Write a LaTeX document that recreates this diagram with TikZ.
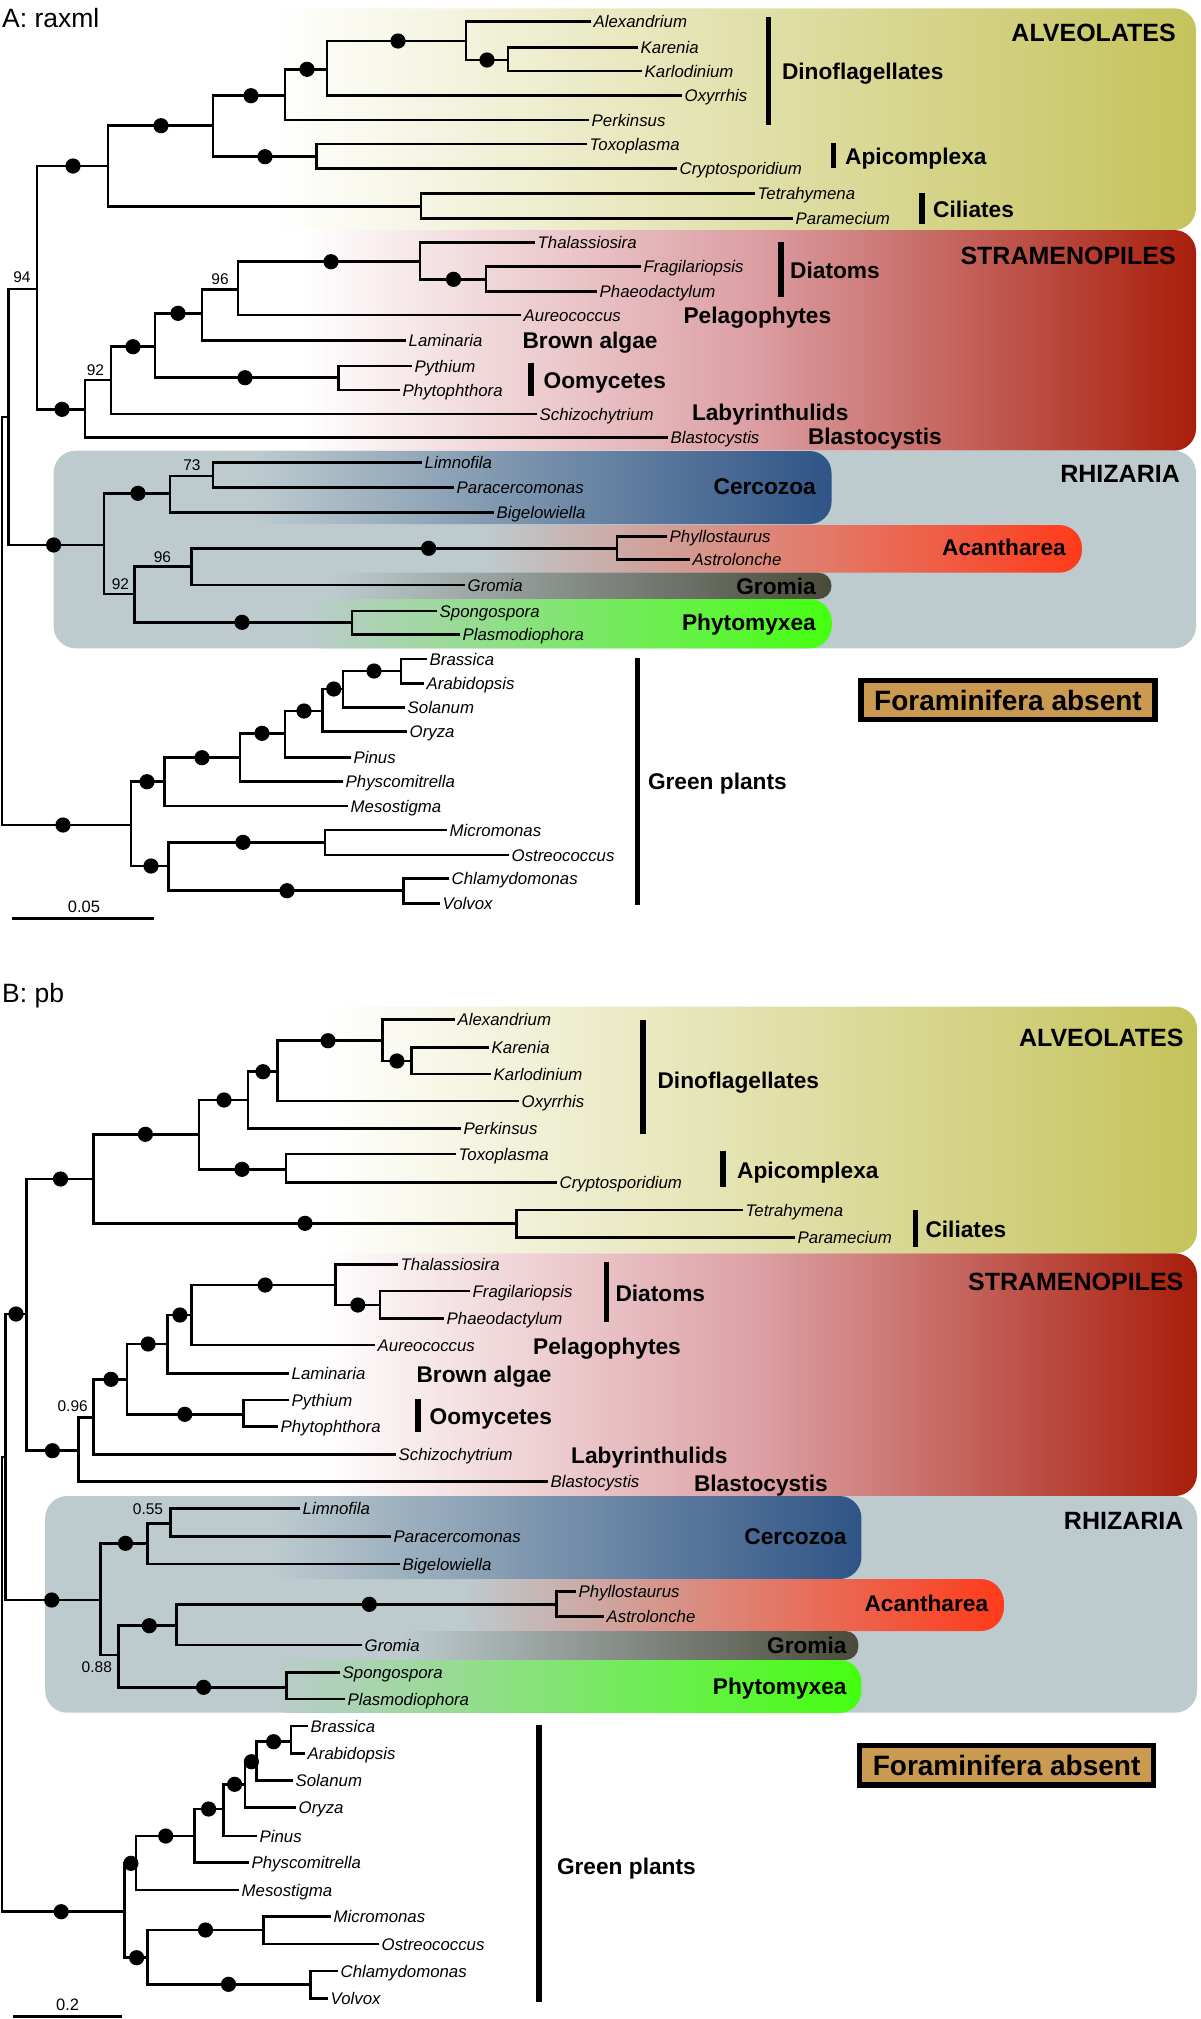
\documentclass[tikz,border=0pt]{standalone}
\usepackage{fontspec}
\setmainfont{Liberation Sans}
\usetikzlibrary{positioning}

\definecolor{alvcol}{HTML}{C5C35B}
\definecolor{strmid}{HTML}{DCA0A5}
\definecolor{strcol}{HTML}{A91E0B}
\definecolor{rhicol}{HTML}{BDCBCF}
\definecolor{cercol}{HTML}{2F5486}
\definecolor{acacol}{HTML}{FF3B1A}
\definecolor{grocol}{HTML}{4A4A3A}
\definecolor{phycol}{HTML}{44FF10}
\definecolor{foracol}{HTML}{C99A50}

\begin{document}
\begin{tikzpicture}[
    x=1pt, y=-1pt,
    branch/.style={line width=2.8pt},
    leaf/.style={anchor=west, inner xsep=2.5pt, inner ysep=0pt, font=\fontsize{16.8}{18}\selectfont\itshape, text height=14pt, text depth=2pt},
    bsval/.style={inner sep=0pt, font=\fontsize{15.5}{16}\selectfont, text height=12.5pt, text depth=1.4pt},
    clade/.style={anchor=west, inner sep=0pt, font=\fontsize{22.7}{24}\selectfont\bfseries, text height=19pt, text depth=2.75pt},
    cladeR/.style={clade, anchor=east},
    supergrp/.style={anchor=east, inner sep=0pt, font=\fontsize{25}{27}\selectfont\bfseries, text height=21pt, text depth=3.1pt},
    panel/.style={anchor=west, inner sep=0pt, font=\fontsize{26.5}{28}\selectfont, text height=22pt, text depth=3pt},
    scaleval/.style={inner sep=0pt, font=\fontsize{16.5}{18}\selectfont, text height=13pt, text depth=1.2pt},
    bsdot/.style={fill=black},
    cbar/.style={line width=5.5pt},
    absent/.style={draw, line width=5.5pt, fill=foracol, inner sep=0pt, minimum width=293.8pt, minimum height=39.1pt, font=\fontsize{28}{30}\selectfont\bfseries, text height=23pt, text depth=3pt}
]
\useasboundingbox (0,0) rectangle (1200,2019);

% ---------- panel A: background boxes
\shade[rounded corners=22pt, left color=white, right color=alvcol] (270,8.3) rectangle (1196,230);
\shade[rounded corners=22pt, left color=white, right color=strcol, middle color=strmid] (300,230) rectangle (1196,450.7);
\fill[rhicol, rounded corners=22pt] (53.6,450.7) rectangle (1196,648.3);
\shade[rounded corners=22pt, left color=rhicol, right color=cercol] (250,451) rectangle (831.5,524);
\shade[rounded corners=23pt, left color=rhicol, right color=acacol] (480,525) rectangle (1082,572.7);
\shade[rounded corners=13pt, left color=rhicol, right color=grocol] (330,572.7) rectangle (831.5,599);
\shade[rounded corners=22pt, left color=rhicol, right color=phycol] (300,599) rectangle (831.5,648.3);

% ---------- panel B: background boxes
\shade[rounded corners=22pt, left color=white, right color=alvcol] (320,1006.7) rectangle (1197,1253.3);
\shade[rounded corners=22pt, left color=white, right color=strcol, middle color=strmid] (320,1253.3) rectangle (1197,1496);
\fill[rhicol, rounded corners=22pt] (45.2,1496) rectangle (1197,1712.7);
\shade[rounded corners=22pt, left color=rhicol, right color=cercol] (270,1496) rectangle (861.4,1579);
\shade[rounded corners=23pt, left color=rhicol, right color=acacol] (460,1579) rectangle (1003.7,1631);
\shade[rounded corners=13pt, left color=rhicol, right color=grocol] (400,1631) rectangle (858.3,1660);
\shade[rounded corners=22pt, left color=rhicol, right color=phycol] (268,1660) rectangle (861.4,1713);

% ---------- panel A: taxa
\node[leaf] (aAlex) at (591,21.7) {Alexandrium};
\node[leaf] (aKare) at (638,47.7) {Karenia};
\node[leaf] (aKarl) at (642,71) {Karlodinium};
\node[leaf] (aOxyr) at (682,95.7) {Oxyrrhis};
\node[leaf] (aPerk) at (589,120) {Perkinsus};
\node[leaf] (aToxo) at (587,144) {Toxoplasma};
\node[leaf] (aCryp) at (677,168.3) {Cryptosporidium};
\node[leaf] (aTetr) at (755,193.3) {Tetrahymena};
\node[leaf] (aPara) at (793,218.3) {Paramecium};
\node[leaf] (aThal) at (535,242.7) {Thalassiosira};
\node[leaf] (aFrag) at (641,266.7) {Fragilariopsis};
\node[leaf] (aPhae) at (597,291.7) {Phaeodactylum};
\node[leaf] (aAure) at (521,315) {Aureococcus};
\node[leaf] (aLami) at (406,340.7) {Laminaria};
\node[leaf] (aPyth) at (412,366) {Pythium};
\node[leaf] (aPhyt) at (400,390) {Phytophthora};
\node[leaf] (aSchi) at (537,414) {Schizochytrium};
\node[leaf] (aBlas) at (668,437.7) {Blastocystis};
\node[leaf] (aLimn) at (422,462.3) {Limnofila};
\node[leaf] (aParc) at (454,487.3) {Paracercomonas};
\node[leaf] (aBige) at (494,512.3) {Bigelowiella};
\node[leaf] (aPhyl) at (667,536.7) {Phyllostaurus};
\node[leaf] (aAstr) at (690,559.3) {Astrolonche};
\node[leaf] (aGrom) at (465,585) {Gromia};
\node[leaf] (aSpon) at (437,611) {Spongospora};
\node[leaf] (aPlas) at (460,634.3) {Plasmodiophora};
\node[leaf] (aBras) at (427,659) {Brassica};
\node[leaf] (aArab) at (424,683.3) {Arabidopsis};
\node[leaf] (aSola) at (405,707.3) {Solanum};
\node[leaf] (aOryz) at (407,731.7) {Oryza};
\node[leaf] (aPinu) at (351,757.3) {Pinus};
\node[leaf] (aPhys) at (343,781.7) {Physcomitrella};
\node[leaf] (aMeso) at (348,806) {Mesostigma};
\node[leaf] (aMicr) at (447,830) {Micromonas};
\node[leaf] (aOstr) at (509,855) {Ostreococcus};
\node[leaf] (aChla) at (449,878.3) {Chlamydomonas};
\node[leaf] (aVolv) at (440,903.3) {Volvox};

% ---------- panel A: inner nodes
\coordinate (axA) at (466,41);
\coordinate (kkA) at (508,60);
\coordinate (din1A) at (327,69.3);
\coordinate (din2A) at (285,95.7);
\coordinate (tcA) at (316.5,156.7);
\coordinate (apdA) at (213,125.7);
\coordinate (cilA) at (421,206.7);
\coordinate (alvA) at (108,166);
\coordinate (asA) at (37,289);
\coordinate (fpA) at (486,279.3);
\coordinate (diaA) at (420,261.7);
\coordinate (s96A) at (238,289.3);
\coordinate (s2A) at (202,313.3);
\coordinate (ooA) at (338.7,377.7);
\coordinate (s1A) at (155,346.7);
\coordinate (s92A) at (111,380);
\coordinate (strA) at (85,409.3);
\coordinate (c73A) at (213,476);
\coordinate (cercA) at (170,493.3);
\coordinate (acA) at (617,548.3);
\coordinate (r96A) at (191.4,566.7);
\coordinate (phyA) at (352,622.3);
\coordinate (r92A) at (134.7,594);
\coordinate (rhA) at (104,545);
\coordinate (sarA) at (8.4,417);
\coordinate (rootA) at (2,619);
\coordinate (baA) at (401,671);
\coordinate (angA) at (343,689);
\coordinate (seedA) at (322.6,711);
\coordinate (vascA) at (285,733.3);
\coordinate (embA) at (240,757.7);
\coordinate (lpA) at (164.6,781.7);
\coordinate (moA) at (325,842.3);
\coordinate (cvA) at (403.7,890.7);
\coordinate (chlA) at (168.4,866);
\coordinate (grA) at (130.9,825);

% ---------- panel A: branches
\draw[branch] (aAlex.west) -| (axA) |- (kkA);
\draw[branch] (aKare.west) -| (kkA) |- (aKarl.west);
\draw[branch] (axA) -| (din1A) |- (aOxyr.west);
\draw[branch] (din1A) -| (din2A) |- (aPerk.west);
\draw[branch] (din2A) -| (apdA) |- (tcA);
\draw[branch] (aToxo.west) -| (tcA) |- (aCryp.west);
\draw[branch] (apdA) -| (alvA) |- (cilA);
\draw[branch] (aTetr.west) -| (cilA) |- (aPara.west);
\draw[branch] (alvA) -| (asA) |- (strA);
\draw[branch] (aFrag.west) -| (fpA) |- (aPhae.west);
\draw[branch] (aThal.west) -| (diaA) |- (fpA);
\draw[branch] (diaA) -| (s96A) |- (aAure.west);
\draw[branch] (s96A) -| (s2A) |- (aLami.west);
\draw[branch] (s2A) -| (s1A) |- (ooA);
\draw[branch] (aPyth.west) -| (ooA) |- (aPhyt.west);
\draw[branch] (s1A) -| (s92A) |- (aSchi.west);
\draw[branch] (s92A) -| (strA) |- (aBlas.west);
\draw[branch] (aLimn.west) -| (c73A) |- (aParc.west);
\draw[branch] (c73A) -| (cercA) |- (aBige.west);
\draw[branch] (cercA) -| (rhA) |- (r92A);
\draw[branch] (aPhyl.west) -| (acA) |- (aAstr.west);
\draw[branch] (acA) -| (r96A) |- (aGrom.west);
\draw[branch] (r96A) -| (r92A) |- (phyA);
\draw[branch] (aSpon.west) -| (phyA) |- (aPlas.west);
\draw[branch] (asA) -| (sarA) |- (rhA);
\draw[branch] (aBras.west) -| (baA) |- (aArab.west);
\draw[branch] (baA) -| (angA) |- (aSola.west);
\draw[branch] (angA) -| (seedA) |- (aOryz.west);
\draw[branch] (seedA) -| (vascA) |- (aPinu.west);
\draw[branch] (vascA) -| (embA) |- (aPhys.west);
\draw[branch] (embA) -| (lpA) |- (aMeso.west);
\draw[branch] (aMicr.west) -| (moA) |- (aOstr.west);
\draw[branch] (aChla.west) -| (cvA) |- (aVolv.west);
\draw[branch] (moA) -| (chlA) |- (cvA);
\draw[branch] (lpA) -| (grA) |- (chlA);
\draw[branch] (sarA) -| (rootA) |- (grA);

\foreach \p in {(487,60),(398,41),(307,69.3),(251,95.7),(265,156.7),(161,125.7),(73,166),
    (453.5,279.3),(331,261.7),(178,313.3),(245,377.7),(133,346.7),(62,409.3),
    (138,493.3),(53.6,545),(428.6,548.3),(242,622.3),
    (374,671),(333.7,689),(304,711),(262,733.3),(202,757.7),(147,781.7),
    (243,842.3),(287,890.7),(151,866),(63,825)}
  \fill[bsdot] \p circle (7.6pt);

% support values A
\node[bsval] (bsA94) at (22,277) {94};
\node[bsval] (bsA96) at (220,279) {96};
\node[bsval] (bsA92) at (95.5,370) {92};
\node[bsval] (bsA73) at (192,465) {73};
\node[bsval] (bsA96r) at (162.5,556.7) {96};
\node[bsval] (bsA92r) at (120.5,584.3) {92};

% clade bars and names A
\draw[cbar] (768.4,17.3) -- (768.4,125);
\draw[cbar] (833.4,143.3) -- (833.4,168.3);
\draw[cbar] (922,193.3) -- (922,224);
\draw[cbar] (781,241.7) -- (781,296.7);
\draw[cbar] (531,362.7) -- (531,396);
\draw[cbar] (637.5,657.7) -- (637.5,905);
\node[clade] (aDinoL) at (781.8,71.5) {Dinoflagellates};
\node[clade] (aApiL) at (845,156.7) {Apicomplexa};
\node[clade] (aCilL) at (933,209.5) {Ciliates};
\node[supergrp] (aAlvL) at (1176,32.8) {ALVEOLATES};
\node[supergrp] (aStrL) at (1176,256) {STRAMENOPILES};
\node[clade] (aDiaL) at (790,270) {Diatoms};
\node[clade] (aPelL) at (683.4,315.3) {Pelagophytes};
\node[clade] (aBroL) at (522.4,340) {Brown algae};
\node[clade] (aOomL) at (543.4,380) {Oomycetes};
\node[clade] (aLabL) at (691.8,412.5) {Labyrinthulids};
\node[clade] (aBlaL) at (807.8,436) {Blastocystis};
\node[supergrp] (aRhiL) at (1180,473.3) {RHIZARIA};
\node[cladeR] (aCerL) at (816,486) {Cercozoa};
\node[cladeR] (aAcaL) at (1066,547.5) {Acantharea};
\node[cladeR] (aGroL) at (816,586) {Gromia};
\node[cladeR] (aPtmL) at (816,622) {Phytomyxea};
\node[clade] (aGreL) at (647.8,781) {Green plants};
\node[absent] (aFora) at (1008,700) {Foraminifera absent};

\node[panel] (aTitle) at (2,17.5) {A: raxml};
\draw[branch] (11.5,918.3) -- (154,918.3);
\node[scaleval] (aScale) at (84,906.7) {0.05};

% ---------- panel B: taxa
\node[leaf] (bAlex) at (455,1019.3) {Alexandrium};
\node[leaf] (bKare) at (489,1047.7) {Karenia};
\node[leaf] (bKarl) at (491,1074) {Karlodinium};
\node[leaf] (bOxyr) at (519,1101) {Oxyrrhis};
\node[leaf] (bPerk) at (461,1128.3) {Perkinsus};
\node[leaf] (bToxo) at (456,1154) {Toxoplasma};
\node[leaf] (bCryp) at (557,1182.3) {Cryptosporidium};
\node[leaf] (bTetr) at (743,1210) {Tetrahymena};
\node[leaf] (bPara) at (795,1237.7) {Paramecium};
\node[leaf] (bThal) at (398,1264.3) {Thalassiosira};
\node[leaf] (bFrag) at (470,1291) {Fragilariopsis};
\node[leaf] (bPhae) at (444,1318.3) {Phaeodactylum};
\node[leaf] (bAure) at (375,1345) {Aureococcus};
\node[leaf] (bLami) at (289,1373.3) {Laminaria};
\node[leaf] (bPyth) at (289,1400) {Pythium};
\node[leaf] (bPhyt) at (278,1426.7) {Phytophthora};
\node[leaf] (bSchi) at (396,1454.3) {Schizochytrium};
\node[leaf] (bBlas) at (548,1481.7) {Blastocystis};
\node[leaf] (bLimn) at (300,1508.3) {Limnofila};
\node[leaf] (bParc) at (391,1536.7) {Paracercomonas};
\node[leaf] (bBige) at (400,1564) {Bigelowiella};
\node[leaf] (bPhyl) at (576,1591.7) {Phyllostaurus};
\node[leaf] (bAstr) at (604,1616.7) {Astrolonche};
\node[leaf] (bGrom) at (362,1645) {Gromia};
\node[leaf] (bSpon) at (340,1672.3) {Spongospora};
\node[leaf] (bPlas) at (345,1699) {Plasmodiophora};
\node[leaf] (bBras) at (308,1726) {Brassica};
\node[leaf] (bArab) at (305,1753.3) {Arabidopsis};
\node[leaf] (bSola) at (293,1780.7) {Solanum};
\node[leaf] (bOryz) at (296,1807.3) {Oryza};
\node[leaf] (bPinu) at (257,1836) {Pinus};
\node[leaf] (bPhys) at (249,1862.7) {Physcomitrella};
\node[leaf] (bMeso) at (239,1890) {Mesostigma};
\node[leaf] (bMicr) at (331,1916.7) {Micromonas};
\node[leaf] (bOstr) at (379,1944) {Ostreococcus};
\node[leaf] (bChla) at (338,1971) {Chlamydomonas};
\node[leaf] (bVolv) at (328,1998.3) {Volvox};

% ---------- panel B: inner nodes
\coordinate (axB) at (382.7,1040.7);
\coordinate (kkB) at (411.4,1061);
\coordinate (din2B) at (277.5,1071.7);
\coordinate (dinB) at (248,1100);
\coordinate (tcB) at (285.9,1169.3);
\coordinate (apdB) at (199,1134.3);
\coordinate (cilB) at (516.6,1223.3);
\coordinate (alvB) at (93.8,1179);
\coordinate (asB) at (26.8,1314);
\coordinate (fpB) at (380,1305);
\coordinate (diaB) at (335.6,1285);
\coordinate (s3B) at (191.4,1315);
\coordinate (s2B) at (167.2,1344);
\coordinate (ooB) at (243.4,1414.3);
\coordinate (s1B) at (127,1379.3);
\coordinate (s096B) at (93.8,1417.3);
\coordinate (strB) at (78.5,1450.7);
\coordinate (n055B) at (170.3,1523.3);
\coordinate (cercB) at (147.3,1543.3);
\coordinate (acB) at (556.8,1604.3);
\coordinate (acgB) at (176.8,1625.7);
\coordinate (phyB) at (286.3,1687.3);
\coordinate (n088B) at (118.6,1655);
\coordinate (rhB) at (100.3,1600);
\coordinate (sarB) at (5.7,1457);
\coordinate (rootB) at (2,1682);
\coordinate (baB) at (290.9,1741.7);
\coordinate (angB) at (256.4,1761.7);
\coordinate (seedB) at (244.9,1784.3);
\coordinate (vascB) at (223.1,1809);
\coordinate (embB) at (194.4,1836);
\coordinate (lpB) at (135.9,1863.3);
\coordinate (moB) at (263.3,1930);
\coordinate (cvB) at (310.8,1984.3);
\coordinate (chlB) at (147.3,1957.7);
\coordinate (grB) at (124.4,1911.7);

% ---------- panel B: branches
\draw[branch] (bAlex.west) -| (axB) |- (kkB);
\draw[branch] (bKare.west) -| (kkB) |- (bKarl.west);
\draw[branch] (axB) -| (din2B) |- (bOxyr.west);
\draw[branch] (din2B) -| (dinB) |- (bPerk.west);
\draw[branch] (dinB) -| (apdB) |- (tcB);
\draw[branch] (bToxo.west) -| (tcB) |- (bCryp.west);
\draw[branch] (apdB) -| (alvB) |- (cilB);
\draw[branch] (bTetr.west) -| (cilB) |- (bPara.west);
\draw[branch] (alvB) -| (asB) |- (strB);
\draw[branch] (bFrag.west) -| (fpB) |- (bPhae.west);
\draw[branch] (bThal.west) -| (diaB) |- (fpB);
\draw[branch] (diaB) -| (s3B) |- (bAure.west);
\draw[branch] (s3B) -| (s2B) |- (bLami.west);
\draw[branch] (s2B) -| (s1B) |- (ooB);
\draw[branch] (bPyth.west) -| (ooB) |- (bPhyt.west);
\draw[branch] (s1B) -| (s096B) |- (bSchi.west);
\draw[branch] (s096B) -| (strB) |- (bBlas.west);
\draw[branch] (bLimn.west) -| (n055B) |- (bParc.west);
\draw[branch] (n055B) -| (cercB) |- (bBige.west);
\draw[branch] (cercB) -| (rhB) |- (n088B);
\draw[branch] (bPhyl.west) -| (acB) |- (bAstr.west);
\draw[branch] (acB) -| (acgB) |- (bGrom.west);
\draw[branch] (acgB) -| (n088B) |- (phyB);
\draw[branch] (bSpon.west) -| (phyB) |- (bPlas.west);
\draw[branch] (asB) -| (sarB) |- (rhB);
\draw[branch] (bBras.west) -| (baB) |- (bArab.west);
\draw[branch] (baB) -| (angB) |- (bSola.west);
\draw[branch] (angB) -| (seedB) |- (bOryz.west);
\draw[branch] (seedB) -| (vascB) |- (bPinu.west);
\draw[branch] (vascB) -| (embB) |- (bPhys.west);
\draw[branch] (embB) -| (lpB) |- (bMeso.west);
\draw[branch] (bMicr.west) -| (moB) |- (bOstr.west);
\draw[branch] (bChla.west) -| (cvB) |- (bVolv.west);
\draw[branch] (moB) -| (chlB) |- (cvB);
\draw[branch] (lpB) -| (grB) |- (chlB);
\draw[branch] (sarB) -| (rootB) |- (grB);

\foreach \p in {(396.9,1061),(328,1040.7),(263,1071.7),(224,1100),(242,1169.3),(145.4,1134.3),(305,1223.3),(60.5,1179),
    (357.8,1305),(265.2,1285),(179.9,1315),(148.1,1344),(184.8,1414.3),(111,1379.3),(52.4,1450.7),(16,1314),
    (125.5,1543.3),(369.3,1604.3),(149.3,1625.7),(203.6,1687.3),(51.7,1600),
    (273.6,1741.7),(251.4,1761.7),(234.6,1784.3),(208.6,1809),(165.7,1836),(130.9,1863.3),
    (205.5,1930),(228.5,1984.3),(136.6,1957.7),(61.2,1911.7)}
  \fill[bsdot] \p circle (7.6pt);

% support values B
\node[bsval] (bsB096) at (72.7,1406) {0.96};
\node[bsval] (bsB055) at (148,1509) {0.55};
\node[bsval] (bsB088) at (96.8,1666.7) {0.88};

% clade bars and names B
\draw[cbar] (643.2,1020) -- (643.2,1134);
\draw[cbar] (723.2,1150.7) -- (723.2,1186.7);
\draw[cbar] (915.7,1210) -- (915.7,1246.7);
\draw[cbar] (606.5,1261.7) -- (606.5,1321.7);
\draw[cbar] (418,1399.3) -- (418,1431.7);
\draw[cbar] (538.8,1725) -- (538.8,2002.3);
\node[clade] (bDinoL) at (657.4,1080.3) {Dinoflagellates};
\node[clade] (bApiL) at (737,1170.3) {Apicomplexa};
\node[clade] (bCilL) at (925.3,1229.3) {Ciliates};
\node[supergrp] (bAlvL) at (1183.6,1037.5) {ALVEOLATES};
\node[supergrp] (bStrL) at (1183.6,1281.7) {STRAMENOPILES};
\node[clade] (bDiaL) at (615.3,1293.7) {Diatoms};
\node[clade] (bPelL) at (533,1346.7) {Pelagophytes};
\node[clade] (bBroL) at (416.4,1374) {Brown algae};
\node[clade] (bOomL) at (429.4,1416.3) {Oomycetes};
\node[clade] (bLabL) at (571,1455.3) {Labyrinthulids};
\node[clade] (bBlaL) at (693.8,1483) {Blastocystis};
\node[supergrp] (bRhiL) at (1183.6,1520.7) {RHIZARIA};
\node[cladeR] (bCerL) at (846.8,1536.7) {Cercozoa};
\node[cladeR] (bAcaL) at (988.4,1603.3) {Acantharea};
\node[cladeR] (bGroL) at (846.8,1645) {Gromia};
\node[cladeR] (bPtmL) at (846.8,1686.7) {Phytomyxea};
\node[clade] (bGreL) at (556.8,1866) {Green plants};
\node[absent] (bFora) at (1006.6,1765.2) {Foraminifera absent};

\node[panel] (bTitle) at (2,993.3) {B: pb};
\draw[branch] (13.4,2016.7) -- (121.7,2016.7);
\node[scaleval] (bScale) at (67.7,2004.3) {0.2};
\end{tikzpicture}
\end{document}
